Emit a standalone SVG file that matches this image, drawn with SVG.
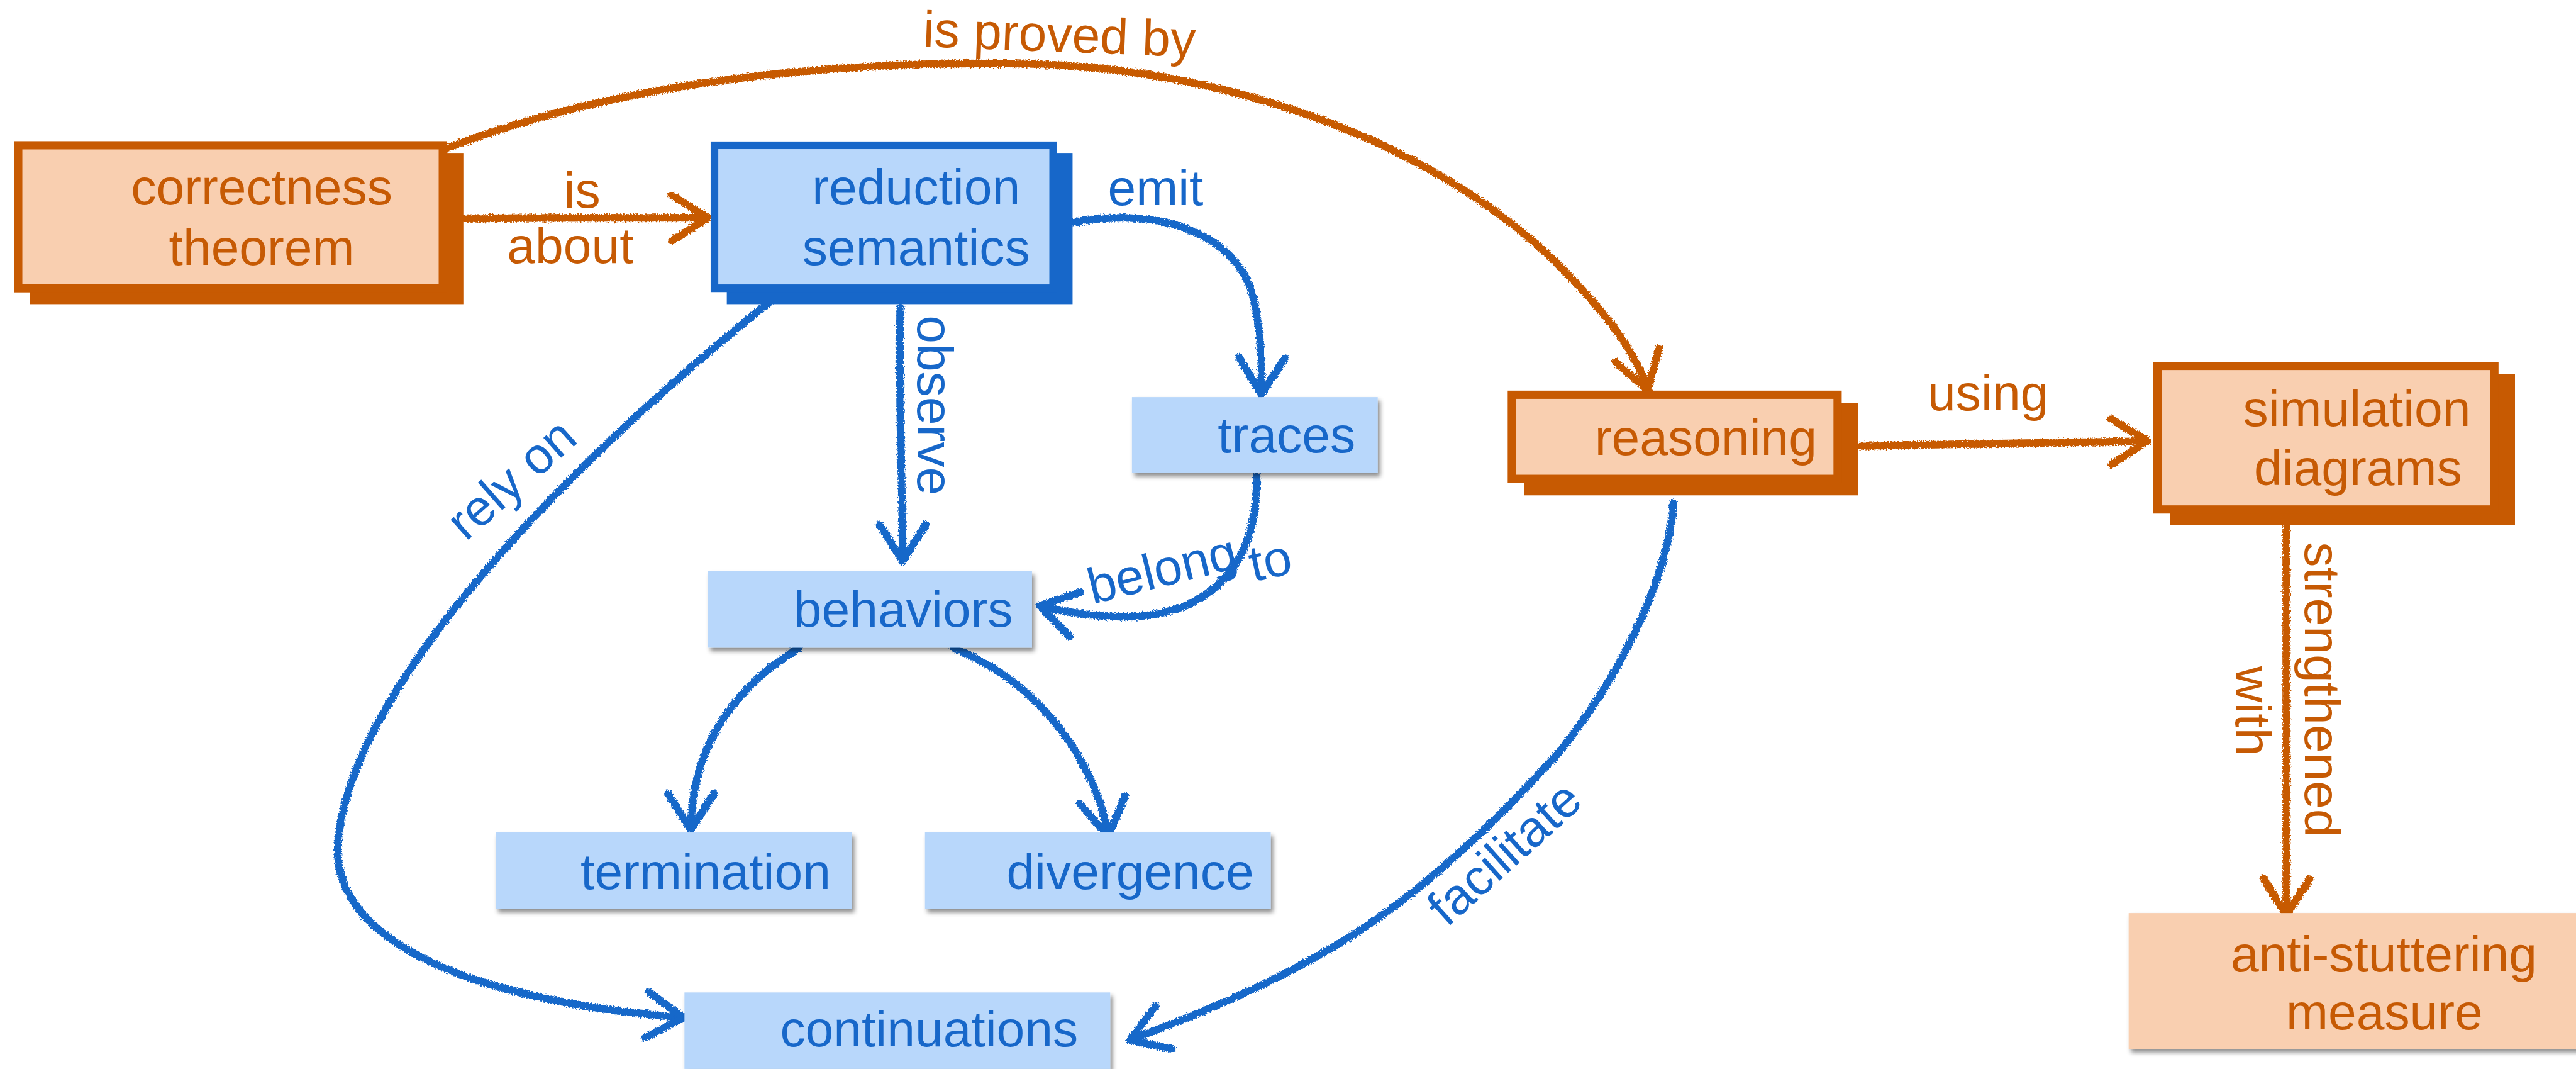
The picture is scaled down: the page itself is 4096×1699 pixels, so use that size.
<svg xmlns="http://www.w3.org/2000/svg" width="4096" height="1699" viewBox="0 0 4096 1699">
  <style>
    .t { font-family: "Liberation Sans", Arial, Helvetica, sans-serif; font-size: 86px; }
    .mid { text-anchor: middle; }
    .blue { fill: #1767C9; }
    .orange { fill: #C65A04; }
    .wire { fill: none; stroke-width: 13; stroke-linecap: round; stroke-linejoin: round; }
    .wire.b { stroke: #1767C9; marker-end: url(#headB); }
    .wire.o { stroke: #C75A02; marker-end: url(#headO); }
    .head { fill: none; stroke-width: 13; stroke-linecap: round; stroke-linejoin: round; }
    .frameO { fill: #F9CFB0; stroke: #C75A02; stroke-width: 14; }
    .frameB { fill: #B8D7FB; stroke: #1767C9; stroke-width: 13; }
    .dropO { fill: #C75A02; }
    .dropB { fill: #1767C9; }
    .plainB { fill: #B8D7FB; filter: url(#soft); }
    .plainO { fill: #F9CFB0; filter: url(#soft); }
  </style>
  <defs>
    <marker id="headB" markerUnits="userSpaceOnUse" orient="auto" overflow="visible" markerWidth="1" markerHeight="1" refX="0" refY="0">
      <path class="head" stroke="#1767C9" d="M-62,-39 L0,0 L-62,39"/>
    </marker>
    <marker id="headO" markerUnits="userSpaceOnUse" orient="auto" overflow="visible" markerWidth="1" markerHeight="1" refX="0" refY="0">
      <path class="head" stroke="#C75A02" d="M-62,-39 L0,0 L-62,39"/>
    </marker>
    <!-- crayon-like edge roughness for the hand-drawn connectors -->
    <filter id="rough" x="-5%" y="-5%" width="110%" height="110%">
      <feTurbulence type="fractalNoise" baseFrequency="0.4" numOctaves="2" seed="3" result="noise"/>
      <feDisplacementMap in="SourceGraphic" in2="noise" scale="8" xChannelSelector="R" yChannelSelector="G"/>
    </filter>
    <filter id="soft" x="-5%" y="-10%" width="115%" height="130%">
      <feDropShadow dx="4" dy="6" stdDeviation="4" flood-color="#000" flood-opacity="0.45"/>
    </filter>
  </defs>

  <rect width="4096" height="1699" fill="#fff"/>

  <g transform="scale(0.935)">
    <!-- connectors -->
    <g id="connectors" filter="url(#rough)">
      <path id="e-is-about" class="wire o" d="M790,372 C950,369 1080,371 1204,370"/>
      <path id="e-is-proved-by" class="wire o" d="M760,252 C1050,140 1400,105 1710,108 C2080,108 2430,240 2640,440 C2720,520 2780,590 2802,663"/>
      <path id="e-emit" class="wire b" d="M1823,378 C1980,350 2100,400 2130,500 C2145,560 2146,620 2145,670"/>
      <path id="e-observe" class="wire b" d="M1531,523 C1528,700 1535,820 1535,954"/>
      <path id="e-belong-to" class="wire b" d="M2137,808 C2140,960 2060,1040 1930,1048 C1870,1050 1810,1040 1768,1030"/>
      <path id="e-rely-on" class="wire b" d="M1309,513 C1000,760 600,1150 575,1430 C560,1600 800,1700 1162,1730"/>
      <path id="e-termination" class="wire b" d="M1358,1102 C1230,1180 1175,1290 1175,1411"/>
      <path id="e-divergence" class="wire b" d="M1622,1102 C1790,1170 1868,1320 1885,1421"/>
      <path id="e-facilitate" class="wire b" d="M2846,855 C2835,1000 2740,1170 2650,1280 C2560,1380 2440,1500 2300,1590 C2180,1665 2050,1720 1921,1768"/>
      <path id="e-using" class="wire o" d="M3162,758 C3350,754 3500,752 3652,750"/>
      <path id="e-strengthened" class="wire o" d="M3888,895 C3886,1100 3890,1350 3888,1556"/>
    </g>

    <!-- connector labels -->
    <g id="edge-labels" class="t">
      <text class="orange mid" x="990" y="353">is</text>
      <text class="orange mid" x="970" y="447">about</text>
      <text class="orange" transform="translate(1569,79) rotate(2.2)">is proved by</text>
      <text class="blue" x="1884" y="349">emit</text>
      <text class="blue" transform="translate(1560,536) rotate(90)">observe</text>
      <text class="blue" transform="translate(1858,1027) rotate(-14)">belong</text>
      <text class="blue" transform="translate(2131,989) rotate(-12)">to</text>
      <text class="blue mid" transform="translate(889,836) rotate(-41.5)">rely on</text>
      <text class="blue mid" transform="translate(2578,1472) rotate(-42)">facilitate</text>
      <text class="orange mid" x="3381" y="697">using</text>
      <text class="orange" transform="translate(3920,921) rotate(90)">strengthened</text>
      <text class="orange" transform="translate(3802,1132) rotate(90)">with</text>
    </g>

    <!-- nodes -->
    <g id="n-correctness-theorem">
      <rect class="dropO" x="51" y="260" width="737" height="257"/>
      <rect class="frameO" x="31" y="247" width="722" height="243"/>
      <text class="t orange mid" x="445" y="348">correctness</text>
      <text class="t orange mid" x="445" y="450">theorem</text>
    </g>
    <g id="n-reduction-semantics">
      <rect class="dropB" x="1236" y="260" width="588" height="257"/>
      <rect class="frameB" x="1215" y="247" width="576" height="243"/>
      <text class="t blue mid" x="1558" y="348">reduction</text>
      <text class="t blue mid" x="1558" y="450">semantics</text>
    </g>
    <g id="n-traces">
      <rect class="plainB" x="1925" y="675" width="418" height="129"/>
      <text class="t blue mid" x="2188" y="769">traces</text>
    </g>
    <g id="n-behaviors">
      <rect class="plainB" x="1204" y="971" width="551" height="130"/>
      <text class="t blue mid" x="1536" y="1065">behaviors</text>
    </g>
    <g id="n-termination">
      <rect class="plainB" x="843" y="1415" width="606" height="130"/>
      <text class="t blue mid" x="1200" y="1511">termination</text>
    </g>
    <g id="n-divergence">
      <rect class="plainB" x="1573" y="1415" width="588" height="130"/>
      <text class="t blue mid" x="1922" y="1511">divergence</text>
    </g>
    <g id="n-continuations">
      <rect class="plainB" x="1164" y="1687" width="724" height="130"/>
      <text class="t blue mid" x="1580" y="1779">continuations</text>
    </g>
    <g id="n-reasoning">
      <rect class="dropO" x="2592" y="685" width="568" height="157"/>
      <rect class="frameO" x="2571" y="671" width="554" height="143"/>
      <text class="t orange mid" x="2901" y="773">reasoning</text>
    </g>
    <g id="n-simulation-diagrams">
      <rect class="dropO" x="3690" y="636" width="587" height="257"/>
      <rect class="frameO" x="3669" y="622" width="573" height="244"/>
      <text class="t orange mid" x="4008" y="724">simulation</text>
      <text class="t orange mid" x="4010" y="825">diagrams</text>
    </g>
    <g id="n-anti-stuttering-measure">
      <rect class="plainO" x="3620" y="1552" width="800" height="231"/>
      <text class="t orange mid" x="4054" y="1651">anti-stuttering</text>
      <text class="t orange mid" x="4055" y="1750">measure</text>
    </g>
  </g>
</svg>
